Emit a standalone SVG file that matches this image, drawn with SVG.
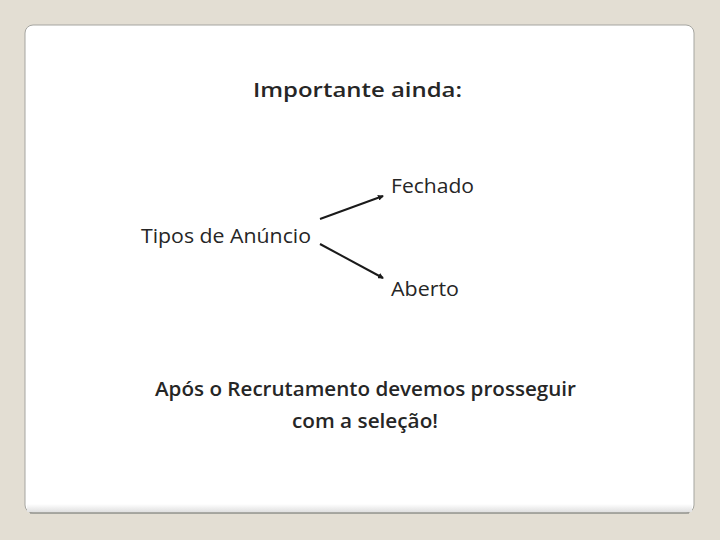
<svg xmlns="http://www.w3.org/2000/svg" width="720" height="540" viewBox="0 0 720 540">
<defs>
<style>
.t{font-family:"Open Sans","Noto Sans","Liberation Sans",sans-serif;fill:#262626;font-size:20px}
.b{font-weight:600}
.c{stroke:#1a1a1a;stroke-width:2;fill:none}
</style>
<marker id="ah" viewBox="0 0 6 6" refX="5" refY="3" markerWidth="3" markerHeight="3" orient="auto">
<path d="M0,0 L6,3 L0,6 z" fill="#1a1a1a"/>
</marker>
<linearGradient id="sh" x1="0" y1="0" x2="0" y2="1">
<stop offset="0" stop-color="#ffffff"/>
<stop offset="1" stop-color="#e0e0e0"/>
</linearGradient>
</defs>
<rect width="720" height="540" fill="#e3ded3"/>
<g id="panel">
<rect x="25" y="25" width="669" height="488" rx="8" fill="#ffffff" stroke="#a5a5a0" stroke-width="1"/>
<rect x="27" y="504" width="665" height="8" fill="url(#sh)"/>
<line x1="30" y1="513" x2="689" y2="513" stroke="#9a9a95" stroke-width="1.5"/>
</g>
<g id="title"><text class="t b" x="357.5" y="97" text-anchor="middle" font-size="22.5" textLength="209" lengthAdjust="spacingAndGlyphs">Importante ainda:</text></g>
<g id="tipos"><text class="t" x="141" y="243" font-weight="500" textLength="170" lengthAdjust="spacingAndGlyphs">Tipos de Anúncio</text></g>
<g id="fechado"><text class="t" x="391" y="193" font-weight="500" textLength="83" lengthAdjust="spacingAndGlyphs">Fechado</text></g>
<g id="aberto"><text class="t" x="391" y="296" font-weight="500" textLength="68" lengthAdjust="spacingAndGlyphs">Aberto</text></g>
<g id="conclusao">
<text class="t b" x="365.5" y="396" text-anchor="middle" textLength="421" lengthAdjust="spacingAndGlyphs">Após o Recrutamento devemos prosseguir</text>
<text class="t b" x="365" y="428" text-anchor="middle" textLength="146" lengthAdjust="spacingAndGlyphs">com a seleção!</text>
</g>
<g id="connectors">
<line class="c" x1="320" y1="219" x2="383" y2="196" marker-end="url(#ah)"/>
<line class="c" x1="320" y1="244" x2="383" y2="278" marker-end="url(#ah)"/>
</g>
</svg>
